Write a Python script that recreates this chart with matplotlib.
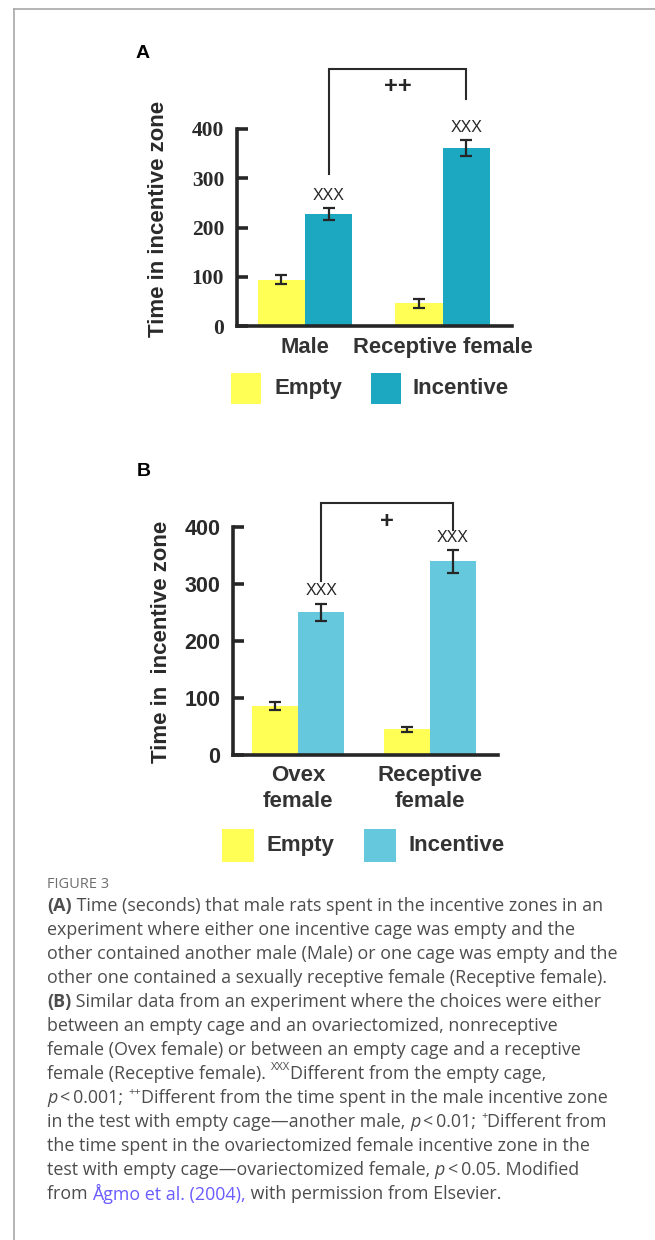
import matplotlib
matplotlib.use("Agg")
import matplotlib.pyplot as plt
from matplotlib.patches import Rectangle
from matplotlib.lines import Line2D

# ---------------- data ----------------
series = ["Empty", "Incentive"]
yticks = [0, 100, 200, 300, 400]

a_categories = ["Male", "Receptive female"]
a_empty = [94, 46]
a_empty_err = [9, 9]
a_incentive = [227, 361]
a_incentive_err = [12, 16]
a_marks = ["XXX", "XXX"]
a_bracket_label = "++"

b_categories = ["Ovex\nfemale", "Receptive\nfemale"]
b_empty = [86, 45]
b_empty_err = [7, 4]
b_incentive = [251, 340]
b_incentive_err = [15, 20]
b_marks = ["XXX", "XXX"]
b_bracket_label = "+"

# ---------------- styling ----------------
W, H = 655, 1240
YELLOW = "#FFFF55"
TEAL_A = "#1CA8C1"
CYAN_B = "#66C8DC"
INK = "#262626"
SANS = ["Liberation Sans", "DejaVu Sans"]
SERIF = ["Liberation Serif", "DejaVu Serif"]

fig = plt.figure(figsize=(W / 100, H / 100), dpi=100)
fig.patch.set_facecolor("white")


def fx(x):
    return x / W


def fy(y):
    return 1 - y / H


# page border
fig.add_artist(Line2D([fx(13.5), fx(13.5)], [fy(9), fy(1240)], color="#a8a8a8", lw=1.2))
fig.add_artist(Line2D([fx(13.5), fx(655)], [fy(9), fy(9)], color="#a8a8a8", lw=1.2))


def panel(rect_px, xlim, width, cats, empty, empty_err, inc, inc_err, marks,
          br_label, br_size, br_levels, inc_color, tickfont, label_text, label_x,
          label_y, letter, letter_xy, cat_pad, cat_size, legend_px, linesp=1.0):
    x0, x1, ytop, ybot = rect_px
    ax = fig.add_axes([fx(x0), fy(ybot), (x1 - x0) / W, (ybot - ytop) / H])
    ax.set_facecolor("none")
    n = len(cats)
    pos = list(range(n))
    pe = [p - width / 2 for p in pos]
    pi = [p + width / 2 for p in pos]
    ax.bar(pe, empty, width=width, color=YELLOW, zorder=2)
    ax.bar(pi, inc, width=width, color=inc_color, zorder=2)
    ek = dict(fmt="none", ecolor=INK, elinewidth=1.6, capsize=4.5, capthick=1.6,
              zorder=3, clip_on=False)
    ax.errorbar(pe, empty, yerr=empty_err, **ek)
    ax.errorbar(pi, inc, yerr=inc_err, **ek)
    for p, v, e, m in zip(pi, inc, inc_err, marks):
        ax.annotate(m, (p, v + e), xytext=(0, 4), textcoords="offset points",
                    ha="center", va="bottom", fontsize=11.5, color=INK,
                    family=SANS)
    # bracket
    lb, rb, top = br_levels
    ax.plot([pi[0], pi[0], pi[1], pi[1]], [lb, top, top, rb], color="#2a2a2a",
            lw=1.5, clip_on=False, solid_joinstyle="miter")
    ax.text((pi[0] + pi[1]) / 2, top - 12, br_label, ha="center", va="top",
            fontsize=br_size, fontweight="bold", color=INK, family=SANS)
    ax.set_xlim(*xlim)
    ax.set_ylim(0, 400)
    for s in ["top", "right"]:
        ax.spines[s].set_visible(False)
    for s in ["left", "bottom"]:
        ax.spines[s].set_linewidth(2.6)
        ax.spines[s].set_color(INK)
        ax.spines[s].set_capstyle("projecting")
    ax.set_yticks(yticks)
    ax.set_yticklabels([str(t) for t in yticks], family=tickfont,
                       fontweight="bold", fontsize=15.5, color="#2a2a2a")
    ax.tick_params(axis="y", direction="in", length=8, width=2.6, color=INK,
                   pad=9)
    ax.set_xticks(pos)
    ax.set_xticklabels(cats, family=SANS, fontweight="bold", fontsize=cat_size,
                       color="#333333", linespacing=linesp)
    ax.tick_params(axis="x", length=0, pad=cat_pad)
    fig.text(fx(label_x), fy(label_y), label_text, rotation=90, ha="center",
             va="center", family=SANS, fontweight="bold", fontsize=16,
             color="#2a2a2a")
    fig.text(fx(letter_xy[0]), fy(letter_xy[1]), letter, ha="center",
             va="center", family=SANS, fontweight="bold", fontsize=14,
             color="black")
    # legend
    (yx0, cx0, ly0, ly1, tx_e, tx_i, side) = legend_px
    for xx, col, lab, tx in [(yx0, YELLOW, series[0], tx_e),
                             (cx0, inc_color, series[1], tx_i)]:
        fig.add_artist(Rectangle((fx(xx), fy(ly1)), side / W, (ly1 - ly0) / H,
                                 facecolor=col, edgecolor="none"))
        fig.text(fx(tx), fy((ly0 + ly1) / 2), lab, ha="left", va="center",
                 family=SANS, fontweight="bold", fontsize=16, color="#333333")
    return ax


# Panel A
panel(rect_px=(236.7, 511.7, 129, 326), xlim=(-0.496, 1.501), width=0.344,
      cats=a_categories, empty=a_empty, empty_err=a_empty_err, inc=a_incentive,
      inc_err=a_incentive_err, marks=a_marks, br_label=a_bracket_label,
      br_size=17, br_levels=(309, 461, 521), inc_color=TEAL_A, tickfont=SERIF,
      label_text="Time in incentive zone", label_x=158, label_y=219,
      letter="A", letter_xy=(143, 53), cat_pad=8, cat_size=15.8,
      legend_px=(231, 370.7, 373.3, 404, 274, 413, 30))

# Panel B
panel(rect_px=(232.7, 498.3, 527.3, 755), xlim=(-0.498, 1.519), width=0.35,
      cats=b_categories, empty=b_empty, empty_err=b_empty_err, inc=b_incentive,
      inc_err=b_incentive_err, marks=b_marks, br_label=b_bracket_label,
      br_size=17, br_levels=(306, 395, 442), inc_color=CYAN_B, tickfont=SANS,
      label_text="Time in  incentive zone", label_x=161.7, label_y=641.7,
      letter="B", letter_xy=(143.3, 471.7), cat_pad=7, cat_size=16,
      legend_px=(222.3, 364.3, 829.3, 861.7, 266.7, 408, 31.7), linesp=1.35)

# ---------------- caption ----------------
renderer = fig.canvas.get_renderer()
CAP = ["Open Sans", "DejaVu Sans"]
CAP_COLOR = "#4d4d4d"
CAP_SIZE = 12.9
base = dict(family=CAP, fontsize=CAP_SIZE, color=CAP_COLOR)


def seg_width(s, kw):
    t1 = fig.text(0, 0, s + "|", **kw)
    w1 = t1.get_window_extent(renderer).width
    t1.remove()
    t2 = fig.text(0, 0, "|", **kw)
    w2 = t2.get_window_extent(renderer).width
    t2.remove()
    return w1 - w2


def draw_line(segs, x_px, y_px):
    x = x_px
    for s, style in segs:
        kw = dict(base)
        dy = 0
        if style == "b":
            kw["fontweight"] = "bold"
        elif style == "i":
            kw["style"] = "italic"
        elif style == "sup":
            kw["fontsize"] = 8
            dy = -6
        elif style == "link":
            kw["color"] = "#6a5cff"
        fig.text(fx(x), fy(y_px + dy), s, ha="left", va="center", **kw)
        x += seg_width(s, kw)


fig.text(fx(47), fy(884), "FIGURE 3", ha="left", va="center", family=CAP,
         fontsize=10.5, color="#6e6e6e")

ts = "\u2009"
caption = [
    [("(A)", "b"), (" Time (seconds) that male rats spent in the incentive zones in an", "n")],
    [("experiment where either one incentive cage was empty and the", "n")],
    [("other contained another male (Male) or one cage was empty and the", "n")],
    [("other one contained a sexually receptive female (Receptive female).", "n")],
    [("(B)", "b"), (" Similar data from an experiment where the choices were either", "n")],
    [("between an empty cage and an ovariectomized, nonreceptive", "n")],
    [("female (Ovex female) or between an empty cage and a receptive", "n")],
    [("female (Receptive female). ", "n"), ("XXX", "sup"), ("Different from the empty cage,", "n")],
    [("p", "i"), (ts + "<" + ts + "0.001; ", "n"), ("++", "sup"),
     ("Different from the time spent in the male incentive zone", "n")],
    [("in the test with empty cage\u2014another male, ", "n"), ("p", "i"),
     (ts + "<" + ts + "0.01; ", "n"), ("+", "sup"), ("Different from", "n")],
    [("the time spent in the ovariectomized female incentive zone in the", "n")],
    [("test with empty cage\u2014ovariectomized female, ", "n"), ("p", "i"),
     (ts + "<" + ts + "0.05. Modified", "n")],
    [("from ", "n"), ("\u00c5gmo et al. (2004),", "link"),
     (" with permission from Elsevier.", "n")],
]
for k, segs in enumerate(caption):
    draw_line(segs, 47, 906 + 24 * k)

fig.savefig("out.png", dpi=100, facecolor="white")
